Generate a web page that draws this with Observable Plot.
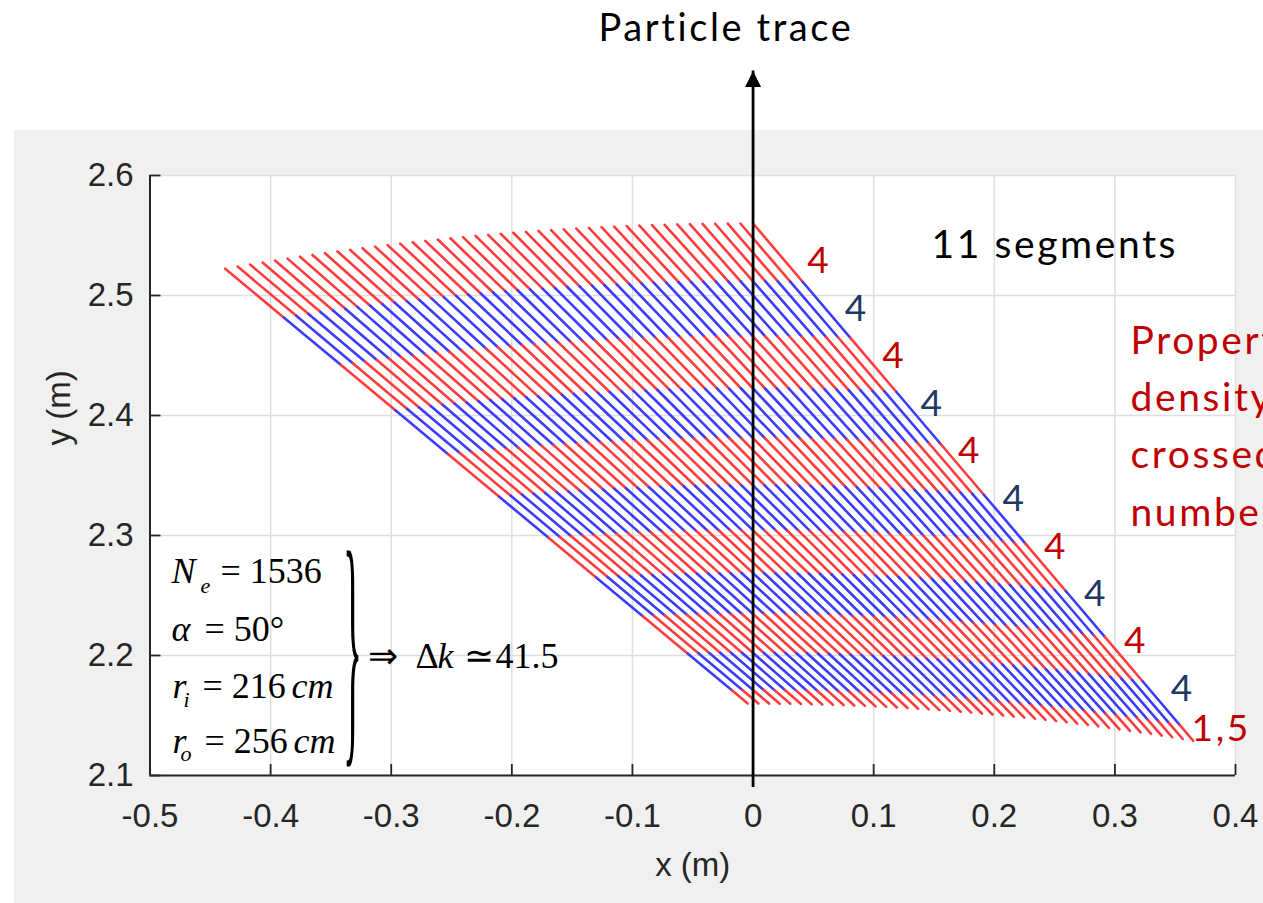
<!DOCTYPE html>
<html>
<head>
<meta charset="utf-8">
<script src="https://cdn.jsdelivr.net/npm/d3@7"></script>
<script src="https://cdn.jsdelivr.net/npm/@observablehq/plot@0.6"></script>
<style>
  html, body { margin: 0; padding: 0; background: #ffffff; overflow: hidden; }
  #figure { position: relative; width: 1263px; height: 903px; overflow: hidden; }
  #panel { position: absolute; left: 14px; top: 130px; right: 0; bottom: 0; background: #f0f0f0; }
  #figure svg { position: absolute; left: 0; top: 0; }
</style>
</head>
<body>
<div id="figure"><div id="panel"></div></div>
<script>
// Stereo layer parameters
const wireCount = 1536;        // N_e, wires around the full circle
const stereoAngleDeg = 50;     // alpha
const innerRadius = 2.16;      // r_i (m)
const outerRadius = 2.56;      // r_o (m)

// Wires drawn, numbered from the one whose outer end lies on the particle trace
const wireIndex = [0, 1, 2, 3, 4, 5, 6, 7, 8, 9, 10, 11, 12, 13, 14, 15, 16, 17, 18, 19, 20,
  21, 22, 23, 24, 25, 26, 27, 28, 29, 30, 31, 32, 33, 34, 35, 36, 37, 38, 39, 40, 41, 42];

// Cells crossed along each of the 11 coloured segments of a wire
const cellsPerSegment = [4, 4, 4, 4, 4, 4, 4, 4, 4, 4, 1.5];

// Where each segment count is written (m)
const segmentLabelX = [0.0550, 0.0861, 0.1171, 0.1488, 0.1799, 0.2167, 0.2512, 0.2844, 0.3176, 0.3563, 0.3881];
const segmentLabelY = [2.5289, 2.4889, 2.4492, 2.4098, 2.3703, 2.3306, 2.2906, 2.2511, 2.2119, 2.1723, 2.1388];

// Axis ticks
const xTicks = [-0.5, -0.4, -0.3, -0.2, -0.1, 0, 0.1, 0.2, 0.3, 0.4];
const xTickLabels = ["-0.5", "-0.4", "-0.3", "-0.2", "-0.1", "0", "0.1", "0.2", "0.3", "0.4"];
const yTicks = [2.1, 2.2, 2.3, 2.4, 2.5, 2.6];
const yTickLabels = ["2.1", "2.2", "2.3", "2.4", "2.5", "2.6"];

// Particle trace (vertical, x = 0)
const trace = [{x: 0, yFrom: 2.09, yTo: 2.687}];

// ---- wire geometry -------------------------------------------------------
const step = 2 * Math.PI / wireCount;                 // angular pitch of the wires
const deltaK = d3.sum(cellsPerSegment);               // wire offset between the two ends
const bounds = [0, ...d3.cumsum(cellsPerSegment)];    // segment limits in wire pitches

const segments = [];
for (const k of wireIndex) {
  const phi = -k * step;
  const ox = outerRadius * Math.sin(phi), oy = outerRadius * Math.cos(phi);
  const ix = innerRadius * Math.sin(phi + deltaK * step), iy = innerRadius * Math.cos(phi + deltaK * step);
  const dx = ix - ox, dy = iy - oy;
  // point of the wire seen at azimuth phi + c pitches
  const at = c => {
    const psi = phi + c * step;
    const t = (oy * Math.sin(psi) - ox * Math.cos(psi)) / (dx * Math.cos(psi) - dy * Math.sin(psi));
    return [ox + t * dx, oy + t * dy];
  };
  for (let j = 0; j < cellsPerSegment.length; ++j) {
    const [x1, y1] = at(bounds[j]);
    const [x2, y2] = at(bounds[j + 1]);
    segments.push({x1, y1, x2, y2, band: j});
  }
}

const segmentLabels = cellsPerSegment.map((v, i) => ({
  x: segmentLabelX[i], y: segmentLabelY[i], text: String(v).replace(".", ","), band: i
}));

// filled arrow head with its tip at the anchor point
const arrowHead = {
  draw(context, size) {
    const r = Math.sqrt(size / Math.PI);
    context.moveTo(0, 0);
    context.lineTo(r, 2 * r);
    context.lineTo(-r, 2 * r);
    context.closePath();
  }
};

// ---- layout helpers ------------------------------------------------------
const M = {left: 149.5, right: 28, top: 175, bottom: 128};
const serif = "'Liberation Serif', 'Times New Roman', serif";
const sans = "'Liberation Sans', Arial, Helvetica, sans-serif";
const calibriLike = "Lato, 'Open Sans', sans-serif";

// a piece of text placed by its baseline start, relative to the page
function note(text, px, py, opts = {}) {
  return Plot.text([text], {
    text: d => d,
    frameAnchor: "top-left",
    dx: px - M.left,
    dy: py - M.top,
    textAnchor: "start",
    lineAnchor: "bottom",
    ...opts
  });
}

const eqItalic = {fontFamily: serif, fontStyle: "italic", fontSize: 36, fill: "black"};
const eqRoman = {fontFamily: serif, fontSize: 36, fill: "black"};
const eqSub = {fontFamily: serif, fontStyle: "italic", fontSize: 22, fill: "black"};

const chart = Plot.plot({
  width: 1263,
  height: 903,
  marginLeft: M.left,
  marginRight: M.right,
  marginTop: M.top,
  marginBottom: M.bottom,
  x: {domain: [-0.5, 0.4]},
  y: {domain: [2.1, 2.6]},
  style: {background: "transparent", fontFamily: sans, overflow: "hidden"},
  marks: [
    Plot.frame({fill: "white", stroke: "none"}),
    Plot.gridX(xTicks, {stroke: "#dedede", strokeOpacity: 1, strokeWidth: 1.5}),
    Plot.gridY(yTicks, {stroke: "#dedede", strokeOpacity: 1, strokeWidth: 1.5}),

    // wire segments, alternately red and blue
    Plot.link(segments, {
      x1: "x1", y1: "y1", x2: "x2", y2: "y2",
      stroke: d => d.band % 2 === 0 ? "#ff3c3c" : "#3c3cff",
      strokeWidth: 2.6,
      strokeLinecap: "round"
    }),

    // axes (MATLAB style: inward ticks, left and bottom lines)
    Plot.ruleX([-0.5], {stroke: "#262626", strokeWidth: 2}),
    Plot.ruleY([2.1], {stroke: "#262626", strokeWidth: 2}),
    Plot.axisX(xTicks, {
      tickFormat: d => xTickLabels[xTicks.indexOf(d)],
      tickSize: -11, tickPadding: 38.7, strokeWidth: 1.8,
      color: "#262626", fontSize: 33, label: null
    }),
    Plot.axisY(yTicks, {
      tickFormat: d => yTickLabels[yTicks.indexOf(d)],
      tickSize: -11, tickPadding: 27.5, strokeWidth: 1.8,
      color: "#262626", fontSize: 33, label: null
    }),
    Plot.text(["x (m)"], {text: d => d, frameAnchor: "bottom", dy: 100, lineAnchor: "bottom",
      fontSize: 33, fill: "#262626"}),
    Plot.text(["y (m)"], {text: d => d, frameAnchor: "left", dx: 59 - M.left, dy: -30, rotate: -90,
      lineAnchor: "middle", fontSize: 33, fill: "#262626"}),

    // particle trace
    Plot.ruleX(trace, {x: "x", y1: "yFrom", y2: "yTo", stroke: "black", strokeWidth: 2.8}),
    Plot.dot(trace, {x: "x", y: "yTo", symbol: arrowHead, r: 8, fill: "black", stroke: "none"}),
    note("Particle trace", 598, 40, {fontFamily: calibriLike, fontSize: 38, fill: "black"}),

    // segment counts along the outer wire
    Plot.text(segmentLabels, {
      x: "x", y: "y", text: "text",
      fill: d => d.band % 2 === 0 ? "#c00000" : "#203864",
      fontFamily: calibriLike, fontSize: 37, textAnchor: "middle", lineAnchor: "middle"
    }),
    note("11 segments", 931, 257, {fontFamily: calibriLike, fontSize: 39, fill: "black"}),
    note("Property\ndensity\ncrossed\nnumber", 1130, 525,
      {fontFamily: calibriLike, fontSize: 39, fill: "#c00000", lineHeight: 1.462}),

    // parameters of the layer
    note("N", 171, 582, eqItalic),
    note("e", 200, 592, eqSub),
    note(`= ${wireCount}`, 220, 582, eqRoman),
    note("\u03b1", 171, 640, eqItalic),
    note(`= ${stereoAngleDeg}\u00b0`, 204, 640, eqRoman),
    note("r", 172, 697, eqItalic),
    note("i", 183, 706, eqSub),
    note(`= ${Math.round(innerRadius * 100)}`, 202, 697, eqRoman),
    note("cm", 291, 697, eqItalic),
    note("r", 172, 752, eqItalic),
    note("o", 180, 760, eqSub),
    note(`= ${Math.round(outerRadius * 100)}`, 204, 752, eqRoman),
    note("cm", 293, 752, eqItalic),
    Plot.text(["}"], {text: d => d, frameAnchor: "top-left", dx: 352 - M.left, dy: 731 - M.top,
      textAnchor: "middle", lineAnchor: "bottom", fontFamily: serif, fontSize: 261, fill: "black"}),
    note("\u21d2", 367, 667, eqRoman),
    note("\u0394", 415, 667, eqRoman),
    note("k", 437, 667, eqItalic),
    note("\u2243", 463, 667, eqRoman),
    note(String(deltaK), 495, 667, eqRoman)
  ]
});

// narrow the tall brace around its own anchor
d3.select(chart).selectAll("text")
  .filter(function () { return this.textContent === "}"; })
  .each(function () {
    const t = this.getAttribute("transform") || "";
    this.setAttribute("transform", `${t} scale(0.15,1)`);
  });

// Calibri-like annotation texts run a little wider
d3.select(chart).selectAll("g")
  .filter(function () { return (this.getAttribute("font-family") || "").startsWith("Lato"); })
  .attr("letter-spacing", "2.6px");

document.getElementById("figure").appendChild(chart);
</script>
</body>
</html>
